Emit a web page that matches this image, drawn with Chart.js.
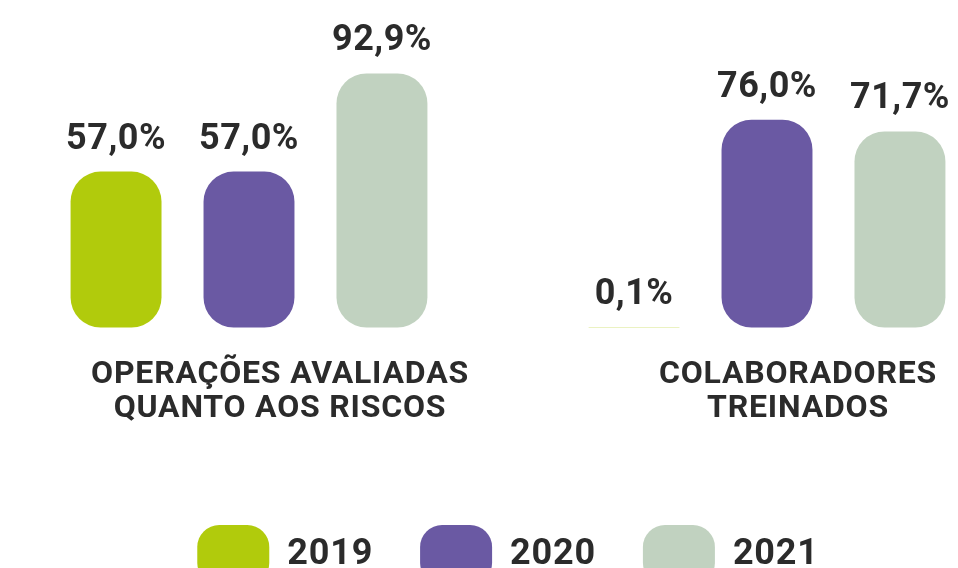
<!DOCTYPE html>
<html>
<head>
<meta charset="utf-8">
<script src="https://cdn.jsdelivr.net/npm/chart.js@4/dist/chart.umd.min.js"></script>
<style>
    html, body { margin: 0; padding: 0; background: #fff; overflow: hidden; }
    #wrap { width: 1036px; height: 600px; margin-left: -10px; }
</style>
</head>
<body>
<div id="wrap"><canvas id="chart" width="1036" height="600"></canvas></div>
<script>
var categories = [["OPERAÇÕES AVALIADAS", "QUANTO AOS RISCOS"], ["COLABORADORES", "TREINADOS"]];
var years = ["2019", "2020", "2021"];
var values2019 = [57.0, 0.1];
var values2020 = [57.0, 76.0];
var values2021 = [92.9, 71.7];
var yearColors = ["#b1cb0c", "#6a59a3", "#c1d2c0"];
var textColor = "#2b2b2b";

function formatPct(v) {
    return v.toFixed(1).replace(".", ",") + "%";
}

function makeDataset(i, data) {
    return {
        label: years[i],
        data: data,
        backgroundColor: yearColors[i],
        borderWidth: 0,
        borderRadius: 30,
        borderSkipped: false,
        categoryPercentage: 0.77,
        barPercentage: 0.684,
        clip: false
    };
}

// DIN-like text has a little tracking
var tracking = {
    id: "tracking",
    beforeUpdate: function(chart) { chart.ctx.letterSpacing = "0.8px"; },
    beforeDraw: function(chart) { chart.ctx.letterSpacing = "0.8px"; }
};

var valueLabels = {
    id: "valueLabels",
    afterDatasetsDraw: function(chart) {
        var ctx = chart.ctx;
        ctx.save();
        ctx.letterSpacing = "0.5px";
        ctx.font = "bold 36px Roboto";
        ctx.fillStyle = textColor;
        ctx.textAlign = "center";
        ctx.textBaseline = "alphabetic";
        chart.data.datasets.forEach(function(ds, i) {
            chart.getDatasetMeta(i).data.forEach(function(bar, j) {
                ctx.fillText(formatPct(ds.data[j]), bar.x, bar.y - 23);
            });
        });
        ctx.restore();
    }
};

var context = document.getElementById("chart");
window.myBar = new Chart(context, {
    type: "bar",
    data: {
        labels: categories,
        datasets: [
            makeDataset(0, values2019),
            makeDataset(1, values2020),
            makeDataset(2, values2021)
        ]
    },
    options: {
        responsive: false,
        animation: false,
        layout: {
            padding: { left: 0, right: 0, top: 54, bottom: 5 }
        },
        scales: {
            x: {
                grid: { display: false, drawTicks: false },
                border: { display: false },
                ticks: {
                    color: textColor,
                    font: { family: "Roboto", weight: "bold", size: 32, lineHeight: 1.07 },
                    padding: 30,
                    labelOffset: 31,
                    maxRotation: 0,
                    autoSkip: false
                },
                afterFit: function(scale) { scale.height += 22; }
            },
            y: {
                display: false,
                min: 0,
                max: 100
            }
        },
        plugins: {
            tooltip: { enabled: false },
            legend: {
                position: "bottom",
                labels: {
                    boxWidth: 72,
                    boxHeight: 60,
                    useBorderRadius: true,
                    borderRadius: 22,
                    padding: 47,
                    color: textColor,
                    font: { family: "Roboto", weight: "bold", size: 36 }
                }
            }
        }
    },
    plugins: [tracking, valueLabels]
});
</script>
</body>
</html>
